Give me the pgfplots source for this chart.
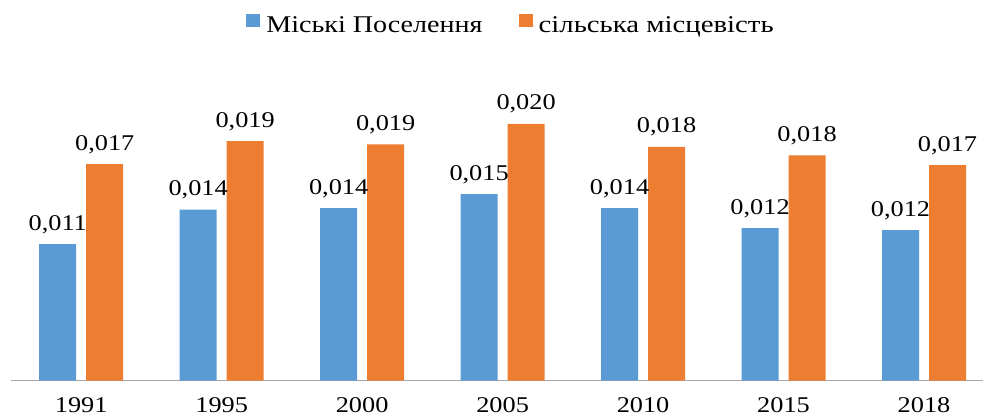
\documentclass[border=0pt]{standalone}
\usepackage{fontspec}
\setmainfont{Liberation Serif}
\usepackage{graphicx}
\usepackage{pgfplots}
\pgfplotsset{compat=1.18}
\definecolor{cblue}{HTML}{5B9BD5}
\definecolor{corange}{HTML}{ED7D31}
\newcommand\lblfont{\fontsize{22.5}{22.5}\selectfont}
\newcommand\legfont{\fontsize{24}{24}\selectfont}
\begin{document}
\begin{tikzpicture}
\begin{axis}[
  scale only axis, width=972pt, height=300pt,
  xmin=-0.5, xmax=6.42, ymin=0, ymax=0.02374,
  enlargelimits=false,
  ybar=10pt, bar width=37pt,
  axis y line=none, axis x line*=bottom,
  x axis line style={draw=gray!70, line width=1pt},
  xtick={0,...,6}, xticklabels={1991,1995,2000,2005,2010,2015,2018},
  major tick length=0pt,
  xticklabel style={font=\lblfont, text=black, yshift=-14pt, xscale=1.17},
  nodes near coords,
  every node near coord/.append style={font=\lblfont, text=black, yshift=7pt, xscale=1.17},
  legend style={at={(0.5144,1.185)}, anchor=center, draw=none, fill=none,
    legend columns=2, font=\legfont,
    /tikz/every even column/.append style={column sep=34pt}},
  legend image code/.code={\fill[#1] (0pt,-1pt) rectangle (14pt,12pt); \path (0pt,0pt) -- (18pt,0pt);},
  /pgf/number format/.cd, fixed, fixed zerofill, precision=3, use comma, assume math mode=true
]
\addplot[fill=cblue, draw=none] coordinates {
  (0,0.01080) (1,0.01352) (2,0.01365) (3,0.01474) (4,0.01365) (5,0.01205) (6,0.01189)};
\addlegendentry{\scalebox{1.17}[1]{Міські Поселення}}
\addplot[fill=corange, draw=none] coordinates {
  (0,0.01713) (1,0.01895) (2,0.01868) (3,0.02030) (4,0.01848) (5,0.01781) (6,0.01704)};
\addlegendentry{\scalebox{1.2}[1]{сільська місцевість}}
\end{axis}
\pgfresetboundingbox
\path[use as bounding box] (-11pt,-35.5pt) rectangle (972pt,380.5pt);
\end{tikzpicture}
\end{document}
